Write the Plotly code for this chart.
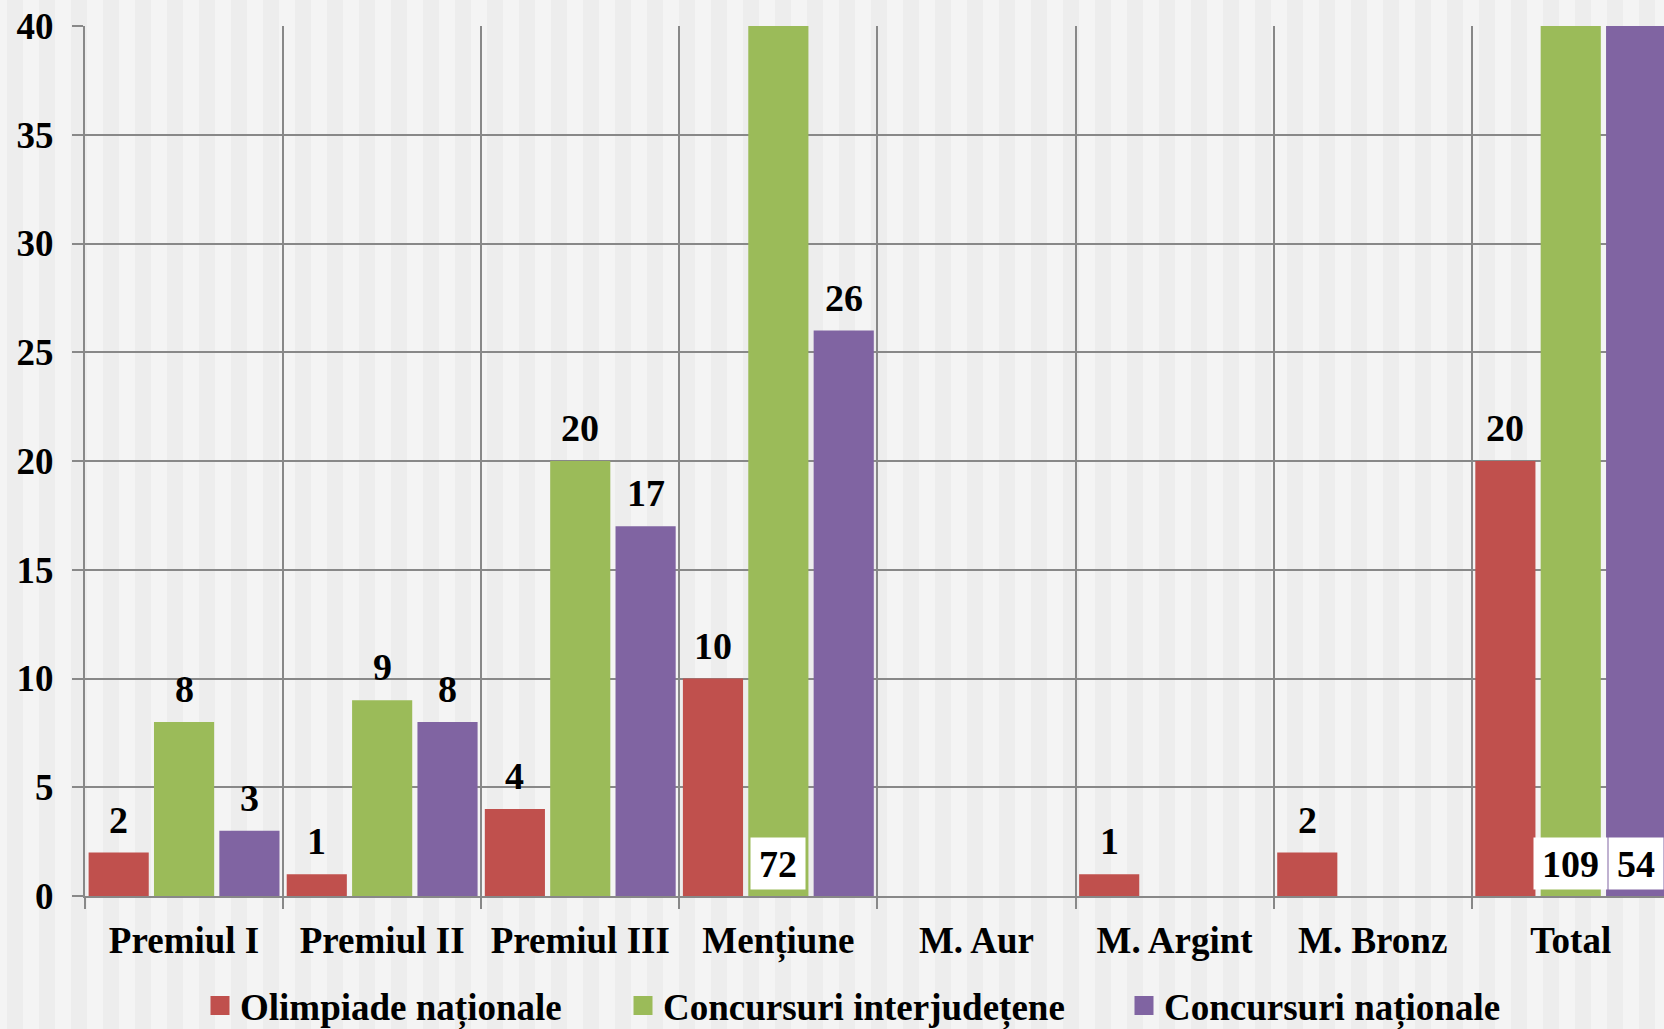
import plotly.graph_objects as go

categories = ["Premiul I", "Premiul II", "Premiul III", "Mențiune",
              "M. Aur", "M. Argint", "M. Bronz", "Total"]
olimpiade = [2, 1, 4, 10, 0, 1, 2, 20]
interjudetene = [8, 9, 20, 72, 0, 0, 0, 109]
nationale = [3, 8, 17, 26, 0, 0, 0, 54]
series_names = ["Olimpiade naționale", "Concursuri interjudețene", "Concursuri naționale"]
y_ticks = [0, 5, 10, 15, 20, 25, 30, 35, 40]

series = [olimpiade, interjudetene, nationale]
colors = ["#C0504D", "#9BBB59", "#8064A2"]

W, H = 1664, 1029
ML, MR, MT, MB = 85, 0, 26, 133
plot_w = W - ML - MR
cat_w = 198.1
x_range = [-0.5, -0.5 + plot_w / cat_w]
y_max = 40
BARGAP = 0.01
slot = (1 - BARGAP) / 3

FONT = "Liberation Serif"
GRID = "#888888"

fig = go.Figure()

for j, (name, vals, col) in enumerate(zip(series_names, series, colors)):
    fig.add_trace(go.Bar(
        x=categories, y=vals, name=name, marker=dict(color=col, line=dict(width=0)),
        showlegend=False, hoverinfo="x+y"))
    # legend entry (square symbol)
    fig.add_trace(go.Scatter(
        x=[None], y=[None], mode="markers", name=name,
        marker=dict(symbol="square", size=16, color=col, line=dict(color=col, width=3)),
        legend="legend" if j == 0 else f"legend{j+1}", showlegend=True))

# background stripes (decorative)
shapes = []
period, stripe = 32, 16
k = -1
while True:
    x0 = 7 + period * k
    if x0 > W:
        break
    shapes.append(dict(
        type="rect", xref="paper", yref="paper", layer="below",
        x0=(x0 - ML) / plot_w, x1=(x0 + stripe - ML) / plot_w,
        y0=-(MB) / (H - MT - MB), y1=(H - MB) / (H - MT - MB),
        fillcolor="#EDEDED", line=dict(width=0)))
    k += 1

annotations = []
for j, vals in enumerate(series):
    for i, v in enumerate(vals):
        if v == 0:
            continue
        xpos = i + (j - 1) * slot
        if v <= y_max:
            annotations.append(dict(
                x=xpos, y=v, xref="x", yref="y", text=str(v), showarrow=False,
                yanchor="bottom", xanchor="center", yshift=10,
                font=dict(family=FONT, size=38, color="black", weight="bold")))
        else:
            annotations.append(dict(
                x=xpos, y=0, xref="x", yref="y", text=str(v), showarrow=False,
                yanchor="bottom", xanchor="center", yshift=6,
                width=19 * len(str(v)) + 16, height=51, borderpad=0,
                bgcolor="white", valign="middle",
                font=dict(family=FONT, size=38, color="black", weight="bold")))

legend_common = dict(
    orientation="h", xref="container", yref="container", yanchor="middle",
    xanchor="left", bgcolor="rgba(0,0,0,0)", borderwidth=0,
    font=dict(family=FONT, size=37, color="black", weight="bold"))
leg_x = [200, 623, 1124]
leg_y = 1 - 1006 / H

fig.update_layout(
    width=W, height=H,
    margin=dict(l=ML, r=MR, t=MT, b=MB, pad=0),
    paper_bgcolor="#F4F4F4", plot_bgcolor="rgba(0,0,0,0)",
    barmode="group", bargap=BARGAP, bargroupgap=0.08,
    shapes=shapes, annotations=annotations,
    legend=dict(x=leg_x[0] / W, y=leg_y, **legend_common),
    legend2=dict(x=leg_x[1] / W, y=leg_y, **legend_common),
    legend3=dict(x=leg_x[2] / W, y=leg_y, **legend_common),
    xaxis=dict(
        type="category", categoryorder="array", categoryarray=categories,
        range=x_range, tickson="boundaries", showgrid=True, gridcolor=GRID, gridwidth=2,
        ticks="outside", ticklen=11, tickwidth=2, tickcolor=GRID,
        showline=True, linecolor=GRID, linewidth=2, zeroline=False,
        ticklabelstandoff=11,
        tickfont=dict(family=FONT, size=37, color="black", weight="bold")),
    yaxis=dict(
        range=[0, y_max], tickvals=y_ticks, showgrid=True, gridcolor=GRID, gridwidth=2,
        ticks="outside", ticklen=11, tickwidth=2, tickcolor=GRID,
        showline=True, linecolor=GRID, linewidth=2, zeroline=False,
        ticklabelstandoff=11,
        tickfont=dict(family=FONT, size=37, color="black", weight="bold")),
)

fig.write_html(
    "out.html",
    config={"displayModeBar": False},
    post_script="document.body.style.margin='0';document.body.style.overflow='hidden';")
